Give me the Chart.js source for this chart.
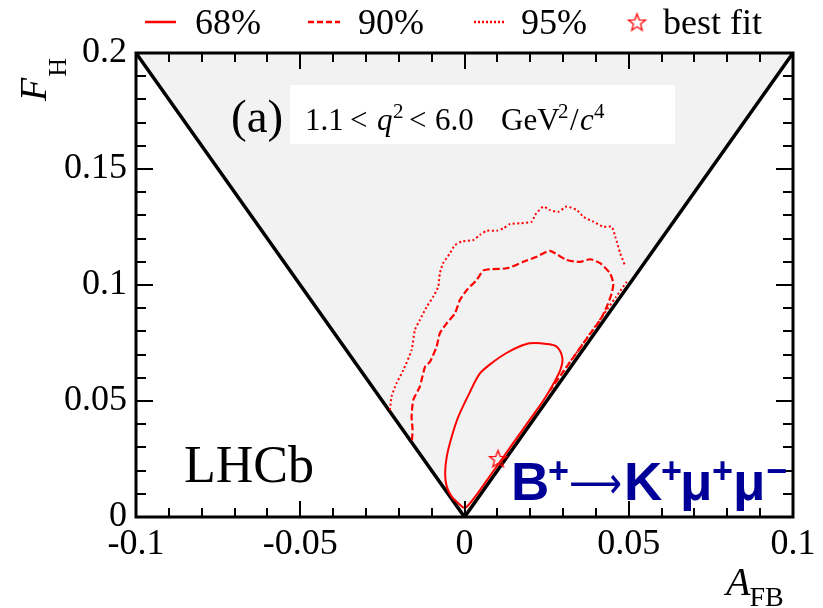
<!DOCTYPE html>
<html>
<head>
<meta charset="utf-8">
<script src="https://cdn.jsdelivr.net/npm/chart.js@4.4.1/dist/chart.umd.min.js"></script>
<style>
  html, body { margin: 0; padding: 0; background: #ffffff; }
  #wrap { width: 823px; height: 608px; position: relative; }
</style>
</head>
<body>
<div id="wrap"><canvas id="c" width="823" height="608"></canvas></div>
<script>
// ---- axis tick labels ----
const xTickValues = [-0.1, -0.05, 0, 0.05, 0.1];
const xTickLabels = ['-0.1', '-0.05', '0', '0.05', '0.1'];
const yTickValues = [0, 0.05, 0.1, 0.15, 0.2];
const yTickLabels = ['0', '0.05', '0.1', '0.15', '0.2'];

// ---- physical boundary |A_FB| <= F_H / 2 ----
const boundaryAFB = [-0.1, 0, 0.1];
const boundaryFH  = [0.2, 0, 0.2];

// ---- 68% CL contour (closed) ----
const c68AFB = [-0.0004, 0.0007, 0.004, 0.008, 0.012, 0.016, 0.020, 0.024, 0.027, 0.0292, 0.0298,
                0.0281, 0.0250, 0.0200, 0.0169, 0.0129, 0.0088, 0.0047, 0.0017, -0.0019, -0.0039,
                -0.0054, -0.0059, -0.0054, -0.0039, -0.0019, -0.0004];
const c68FH  = [0.0040, 0.0044, 0.0102, 0.0182, 0.0262, 0.0342, 0.0422, 0.0502, 0.0572, 0.0635, 0.0685,
                0.0734, 0.0746, 0.0749, 0.0736, 0.0708, 0.0669, 0.0619, 0.0540, 0.0432, 0.0346,
                0.0260, 0.0188, 0.0131, 0.0088, 0.0059, 0.0040];

// ---- 90% CL contour ----
const c90AFB = [-0.0160, -0.0158, -0.0161, -0.0156, -0.0136, -0.0120, -0.0105, -0.0085, -0.0075, -0.0054,
                -0.0029, -0.0014, 0.0007, 0.0037, 0.0057, 0.0078, 0.0129, 0.0179, 0.0220, 0.0260,
                0.0311, 0.0352, 0.0382, 0.0413, 0.0443, 0.0453, 0.0448, 0.0433, 0.0413,
                0.0380, 0.0340, 0.0300, 0.0260];
const c90FH  = [0.0330, 0.0375, 0.0432, 0.0504, 0.0562, 0.0648, 0.0669, 0.0734, 0.0792, 0.0835,
                0.0878, 0.0935, 0.0978, 0.1022, 0.1062, 0.1068, 0.1072, 0.1100, 0.1122, 0.1147,
                0.1108, 0.1100, 0.1111, 0.1094, 0.1050, 0.1007, 0.0964, 0.0906, 0.0849,
                0.0785, 0.0705, 0.0625, 0.0545];

// ---- 95% CL contour (null marks the break at the boundary) ----
const c95AFB = [-0.0227, -0.0222, -0.0207, -0.0186, -0.0161, -0.0151, -0.0136, -0.0115, -0.0095, -0.0080,
                -0.0075, -0.0065, -0.0044, -0.0029, -0.0009, 0.0027, 0.0047, 0.0068, 0.0098, 0.0118,
                0.0139, 0.0169, 0.0205, 0.0215, 0.0240, 0.0260, 0.0286, 0.0311, 0.0342, 0.0362,
                0.0392, 0.0423, 0.0448, 0.0459, 0.0474, 0.0489, null,
                0.0494, 0.0460, 0.0420, 0.0380, 0.0340, 0.0300];
const c95FH  = [0.0461, 0.0519, 0.0576, 0.0634, 0.0720, 0.0806, 0.0849, 0.0906, 0.0950, 0.0993,
                0.1050, 0.1094, 0.1137, 0.1172, 0.1187, 0.1194, 0.1216, 0.1234, 0.1234, 0.1244,
                0.1263, 0.1266, 0.1273, 0.1302, 0.1338, 0.1323, 0.1316, 0.1338, 0.1323, 0.1294,
                0.1273, 0.1251, 0.1251, 0.1208, 0.1137, 0.1082, null,
                0.1014, 0.0946, 0.0866, 0.0786, 0.0706, 0.0626];

// ---- best fit point ----
const bestFitAFB = [0.0102];
const bestFitFH  = [0.0252];

const legendLabels = ['68%', '90%', '95%', 'best fit'];

const RED = '#ff0000';
const SERIF = '"Liberation Serif", "Times New Roman", serif';
const SANS = '"Liberation Sans", Arial, sans-serif';

function zip(xs, ys) {
  return xs.map((x, i) => ({ x: x, y: ys[i] }));
}

// open five-pointed star used as a point marker
function makeStar(r, lw, color) {
  const s = Math.ceil(2 * r + 2 * lw + 2);
  const cv = document.createElement('canvas');
  cv.width = s; cv.height = s;
  const g = cv.getContext('2d');
  g.translate(s / 2, s / 2 + r * 0.1);
  g.beginPath();
  for (let i = 0; i < 10; i++) {
    const rr = i % 2 === 0 ? r : r * 0.42;
    const ang = -Math.PI / 2 + i * Math.PI / 5;
    const px = rr * Math.cos(ang), py = rr * Math.sin(ang);
    if (i === 0) g.moveTo(px, py); else g.lineTo(px, py);
  }
  g.closePath();
  g.strokeStyle = color;
  g.lineWidth = lw;
  g.stroke();
  return cv;
}
const starMarker = makeStar(9, 1.3, RED);

// draw a sequence of text runs with individual fonts and vertical shifts
function drawRuns(ctx, x, y, runs, color) {
  ctx.fillStyle = color;
  ctx.textBaseline = 'alphabetic';
  ctx.textAlign = 'left';
  let cx = x;
  for (const r of runs) {
    ctx.font = r.font;
    ctx.fillText(r.t, cx, y + (r.dy || 0));
    cx += ctx.measureText(r.t).width + (r.sp || 0);
  }
  return cx;
}
// draw text pieces each at its own x position
function drawPlaced(ctx, y, items, color) {
  ctx.fillStyle = color;
  ctx.textBaseline = 'alphabetic';
  ctx.textAlign = 'left';
  for (const r of items) {
    ctx.font = r.font;
    if (r.w) {
      const w = ctx.measureText(r.t).width;
      ctx.save();
      ctx.translate(r.x, y + (r.dy || 0));
      ctx.scale(r.w / w, 1);
      ctx.fillText(r.t, 0, 0);
      ctx.restore();
    } else {
      ctx.fillText(r.t, r.x, y + (r.dy || 0));
    }
  }
}

const decorations = {
  id: 'decorations',
  afterDatasetsDraw(chart) {
    const ctx = chart.ctx;
    const a = chart.chartArea;
    const xs = chart.scales.x, ys = chart.scales.y;
    ctx.save();

    // tick marks on all four sides, pointing inwards
    ctx.strokeStyle = '#000';
    ctx.lineWidth = 2;
    ctx.beginPath();
    for (let k = -10; k <= 10; k++) {
      const px = Math.round(xs.getPixelForValue(k / 100));
      const len = (k % 5 === 0) ? 16 : 9;
      ctx.moveTo(px, a.bottom); ctx.lineTo(px, a.bottom - len);
      ctx.moveTo(px, a.top); ctx.lineTo(px, a.top + len);
    }
    for (let k = 0; k <= 20; k++) {
      const py = Math.round(ys.getPixelForValue(k / 100));
      const len = (k % 5 === 0) ? 17 : 10;
      ctx.moveTo(a.left, py); ctx.lineTo(a.left + len, py);
      ctx.moveTo(a.right, py); ctx.lineTo(a.right - len, py);
    }
    ctx.stroke();

    // frame
    ctx.lineWidth = 3;
    ctx.strokeRect(a.left, a.top, a.right - a.left, a.bottom - a.top);

    // kinematic range label with its white box
    ctx.fillStyle = '#ffffff';
    ctx.fillRect(290, 85, 385, 59);
    const it = 'italic 31px ' + SERIF, rm = '31px ' + SERIF, sup = '21px ' + SERIF;
    drawPlaced(ctx, 130, [
      { t: '1.1', font: rm, x: 305 },
      { t: '<', font: rm, x: 350 },
      { t: 'q', font: it, x: 377 },
      { t: '2', font: sup, x: 393, dy: -12 },
      { t: '<', font: rm, x: 409 },
      { t: '6.0', font: rm, x: 435 },
      { t: 'GeV', font: rm, x: 501 },
      { t: '2', font: sup, x: 558, dy: -12 },
      { t: '/', font: rm, x: 570 },
      { t: 'c', font: it, x: 580 },
      { t: '4', font: sup, x: 594, dy: -12 }
    ], '#000');

    // panel tag and experiment label
    drawRuns(ctx, 231, 132, [{ t: '(a)', font: '47px ' + SERIF }], '#000');
    drawRuns(ctx, 184, 482, [{ t: 'LHCb', font: '52px ' + SERIF }], '#000');

    // decay label
    const big = 'bold 53px ' + SANS, sm = 'bold 36px ' + SANS;
    drawPlaced(ctx, 500, [
      { t: 'B', font: big, x: 511 },
      { t: '+', font: sm, x: 548, dy: -17 },
      { t: '\u27F6', font: '44px "DejaVu Sans", sans-serif', x: 569, dy: -2, w: 53 },
      { t: 'K', font: big, x: 624 },
      { t: '+', font: sm, x: 661, dy: -17 },
      { t: '\u03bc', font: big, x: 680 },
      { t: '+', font: sm, x: 712, dy: -17 },
      { t: '\u03bc', font: big, x: 733 },
      { t: '\u2212', font: sm, x: 766, dy: -17 }
    ], '#000099');

    // axis titles
    ctx.save();
    ctx.translate(46, 101);
    ctx.rotate(-Math.PI / 2);
    drawRuns(ctx, 0, 0, [{ t: 'F', font: 'italic 38px ' + SERIF, sp: 1 }, { t: 'H', font: '26px ' + SERIF, dy: 20 }], '#000');
    ctx.restore();
    drawRuns(ctx, 726, 595, [{ t: 'A', font: 'italic 40px ' + SERIF, sp: -1 }, { t: 'FB', font: '28px ' + SERIF, dy: 11 }], '#000');

    // legend
    const ly = 22;
    ctx.strokeStyle = RED;
    ctx.lineWidth = 2.5;
    const samples = [[145, 176, []], [308, 340, [6, 3]], [474, 505, [2, 2]]];
    for (const s of samples) {
      ctx.setLineDash(s[2]);
      ctx.beginPath(); ctx.moveTo(s[0], ly); ctx.lineTo(s[1], ly); ctx.stroke();
    }
    ctx.setLineDash([]);
    ctx.drawImage(starMarker, 637 - starMarker.width / 2, ly - starMarker.height / 2);
    const lf = '36px ' + SERIF;
    drawRuns(ctx, 195, 34, [{ t: legendLabels[0], font: lf }], '#000');
    drawRuns(ctx, 358, 34, [{ t: legendLabels[1], font: lf }], '#000');
    drawRuns(ctx, 521, 34, [{ t: legendLabels[2], font: lf }], '#000');
    drawRuns(ctx, 663, 34, [{ t: legendLabels[3], font: lf }], '#000');

    ctx.restore();
  }
};

function xLabel(v) {
  const k = Math.round(v * 100);
  if (k % 5 !== 0) return '';
  const i = xTickValues.findIndex(t => Math.round(t * 100) === k);
  return i >= 0 ? xTickLabels[i] : '';
}
function yLabel(v) {
  const k = Math.round(v * 100);
  if (k % 5 !== 0) return '';
  const i = yTickValues.findIndex(t => Math.round(t * 100) === k);
  return i >= 0 ? yTickLabels[i] : '';
}

new Chart(document.getElementById('c'), {
  type: 'scatter',
  data: {
    datasets: [
      { label: 'best fit', data: zip(bestFitAFB, bestFitFH), pointStyle: starMarker, pointRadius: 9, showLine: false },
      { label: '68%', data: zip(c68AFB, c68FH), showLine: true, borderColor: RED, borderWidth: 2, pointRadius: 0, tension: 0.3, fill: false },
      { label: '90%', data: zip(c90AFB, c90FH), showLine: true, borderColor: RED, borderWidth: 2.2, borderDash: [7, 3], pointRadius: 0, tension: 0.2, fill: false },
      { label: '95%', data: zip(c95AFB, c95FH), showLine: true, borderColor: RED, borderWidth: 2, borderDash: [2, 2.5], pointRadius: 0, tension: 0.2, fill: false, spanGaps: false },
      { label: 'boundary', data: zip(boundaryAFB, boundaryFH), showLine: true, borderColor: '#000', borderWidth: 3.5, pointRadius: 0, fill: 'end', backgroundColor: '#f2f2f2' }
    ]
  },
  options: {
    responsive: false,
    devicePixelRatio: 1,
    animation: false,
    layout: { padding: { left: 0, right: 30, top: 53, bottom: 0 } },
    plugins: { legend: { display: false }, tooltip: { enabled: false } },
    scales: {
      x: {
        type: 'linear', min: -0.1, max: 0.1,
        grid: { display: false, drawTicks: false, tickLength: 0 },
        border: { display: false },
        ticks: { stepSize: 0.01, autoSkip: false, maxRotation: 0, padding: 6, color: '#000',
                 font: { family: SERIF, size: 36 }, callback: xLabel },
        afterFit(s) { s.height = 91; }
      },
      y: {
        type: 'linear', min: 0, max: 0.2,
        grid: { display: false, drawTicks: false, tickLength: 0 },
        border: { display: false },
        ticks: { stepSize: 0.01, autoSkip: false, padding: 9, color: '#000',
                 font: { family: SERIF, size: 36 }, callback: yLabel },
        afterFit(s) { s.width = 136; }
      }
    }
  },
  plugins: [decorations]
});
</script>
</body>
</html>
